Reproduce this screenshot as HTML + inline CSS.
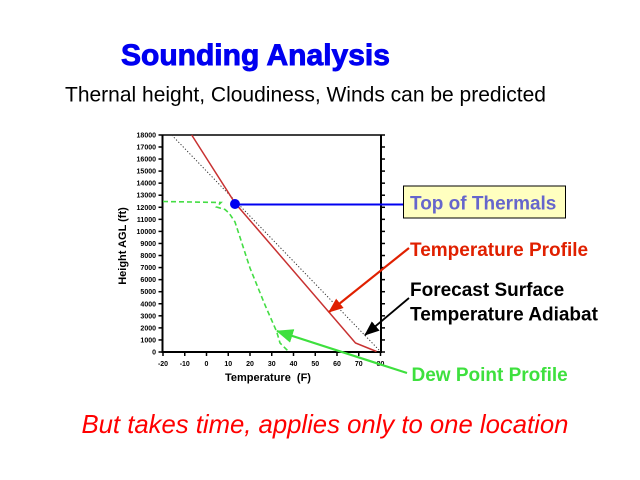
<!DOCTYPE html>
<html>
<head>
<meta charset="utf-8">
<style>
html,body{margin:0;padding:0;background:#fff;}
svg{display:block;}
text{font-family:"Liberation Sans",Arial,sans-serif;}
</style>
</head>
<body>
<svg width="640" height="480" viewBox="0 0 640 480" xmlns="http://www.w3.org/2000/svg">
<rect width="640" height="480" fill="#fff"/>
<defs>
<marker id="ar" markerUnits="userSpaceOnUse" markerWidth="16" markerHeight="12" refX="14" refY="6" orient="auto"><path d="M0,0 L15,6 L0,12 z" fill="#e02000"/></marker>
<marker id="ab" markerUnits="userSpaceOnUse" markerWidth="16" markerHeight="12" refX="14" refY="6" orient="auto"><path d="M0,0 L15,6 L0,12 z" fill="#000"/></marker>
<marker id="ag" markerUnits="userSpaceOnUse" markerWidth="18" markerHeight="14" refX="16" refY="7" orient="auto"><path d="M0,0 L17,7 L0,14 z" fill="#3ee03e"/></marker>
</defs>

<!-- titles -->
<text x="121" y="65" font-size="30" font-weight="bold" fill="#0000f0" stroke="#0000f0" stroke-width="0.9">Sounding Analysis</text>
<text x="65" y="101.5" font-size="21" fill="#000">Thernal height, Cloudiness, Winds can be predicted</text>
<text x="81.5" y="433" font-size="25.7" font-style="italic" fill="#ff0000">But takes time, applies only to one location</text>

<!-- plot frame -->
<g stroke="#000" fill="none">
<line x1="162.5" y1="135" x2="381" y2="135" stroke-width="1.5"/>
<line x1="162.5" y1="134.5" x2="162.5" y2="353" stroke-width="2"/>
<line x1="381" y1="134.5" x2="381" y2="353" stroke-width="2"/>
<line x1="161.5" y1="352" x2="382" y2="352" stroke-width="2"/>
</g>

<!-- y ticks -->
<g stroke="#000" stroke-width="1.5">
<line x1="158.5" y1="352" x2="162.5" y2="352"/><line x1="381" y1="352" x2="385" y2="352"/>
<line x1="158.5" y1="339.94" x2="162.5" y2="339.94"/><line x1="381" y1="339.94" x2="385" y2="339.94"/>
<line x1="158.5" y1="327.88" x2="162.5" y2="327.88"/><line x1="381" y1="327.88" x2="385" y2="327.88"/>
<line x1="158.5" y1="315.82" x2="162.5" y2="315.82"/><line x1="381" y1="315.82" x2="385" y2="315.82"/>
<line x1="158.5" y1="303.76" x2="162.5" y2="303.76"/><line x1="381" y1="303.76" x2="385" y2="303.76"/>
<line x1="158.5" y1="291.7" x2="162.5" y2="291.7"/><line x1="381" y1="291.7" x2="385" y2="291.7"/>
<line x1="158.5" y1="279.64" x2="162.5" y2="279.64"/><line x1="381" y1="279.64" x2="385" y2="279.64"/>
<line x1="158.5" y1="267.58" x2="162.5" y2="267.58"/><line x1="381" y1="267.58" x2="385" y2="267.58"/>
<line x1="158.5" y1="255.52" x2="162.5" y2="255.52"/><line x1="381" y1="255.52" x2="385" y2="255.52"/>
<line x1="158.5" y1="243.46" x2="162.5" y2="243.46"/><line x1="381" y1="243.46" x2="385" y2="243.46"/>
<line x1="158.5" y1="231.4" x2="162.5" y2="231.4"/><line x1="381" y1="231.4" x2="385" y2="231.4"/>
<line x1="158.5" y1="219.34" x2="162.5" y2="219.34"/><line x1="381" y1="219.34" x2="385" y2="219.34"/>
<line x1="158.5" y1="207.28" x2="162.5" y2="207.28"/><line x1="381" y1="207.28" x2="385" y2="207.28"/>
<line x1="158.5" y1="195.22" x2="162.5" y2="195.22"/><line x1="381" y1="195.22" x2="385" y2="195.22"/>
<line x1="158.5" y1="183.16" x2="162.5" y2="183.16"/><line x1="381" y1="183.16" x2="385" y2="183.16"/>
<line x1="158.5" y1="171.1" x2="162.5" y2="171.1"/><line x1="381" y1="171.1" x2="385" y2="171.1"/>
<line x1="158.5" y1="159.04" x2="162.5" y2="159.04"/><line x1="381" y1="159.04" x2="385" y2="159.04"/>
<line x1="158.5" y1="146.98" x2="162.5" y2="146.98"/><line x1="381" y1="146.98" x2="385" y2="146.98"/>
<line x1="158.5" y1="135" x2="162.5" y2="135"/><line x1="381" y1="135" x2="385" y2="135"/>
</g>
<!-- x ticks -->
<g stroke="#000" stroke-width="1.5">
<line x1="163" y1="352" x2="163" y2="356"/>
<line x1="184.75" y1="352" x2="184.75" y2="356"/>
<line x1="206.5" y1="352" x2="206.5" y2="356"/>
<line x1="228.25" y1="352" x2="228.25" y2="356"/>
<line x1="250" y1="352" x2="250" y2="356"/>
<line x1="271.75" y1="352" x2="271.75" y2="356"/>
<line x1="293.5" y1="352" x2="293.5" y2="356"/>
<line x1="315.25" y1="352" x2="315.25" y2="356"/>
<line x1="337" y1="352" x2="337" y2="356"/>
<line x1="358.75" y1="352" x2="358.75" y2="356"/>
<line x1="380.5" y1="352" x2="380.5" y2="356"/>
</g>

<!-- y labels -->
<g font-size="7" font-weight="bold" fill="#000" text-anchor="end">
<text x="156" y="354.5">0</text>
<text x="156" y="342.4">1000</text>
<text x="156" y="330.4">2000</text>
<text x="156" y="318.3">3000</text>
<text x="156" y="306.3">4000</text>
<text x="156" y="294.2">5000</text>
<text x="156" y="282.1">6000</text>
<text x="156" y="270.1">7000</text>
<text x="156" y="258">8000</text>
<text x="156" y="246">9000</text>
<text x="156" y="233.9">10000</text>
<text x="156" y="221.8">11000</text>
<text x="156" y="209.8">12000</text>
<text x="156" y="197.7">13000</text>
<text x="156" y="185.7">14000</text>
<text x="156" y="173.6">15000</text>
<text x="156" y="161.5">16000</text>
<text x="156" y="149.5">17000</text>
<text x="156" y="137.5">18000</text>
</g>
<!-- x labels -->
<g font-size="7" font-weight="bold" fill="#000" text-anchor="middle">
<text x="163" y="366">-20</text>
<text x="184.75" y="366">-10</text>
<text x="206.5" y="366">0</text>
<text x="228.25" y="366">10</text>
<text x="250" y="366">20</text>
<text x="271.75" y="366">30</text>
<text x="293.5" y="366">40</text>
<text x="315.25" y="366">50</text>
<text x="337" y="366">60</text>
<text x="358.75" y="366">70</text>
<text x="380.5" y="366">80</text>
</g>

<!-- axis titles -->
<text transform="translate(126,246) rotate(-90)" font-size="11" font-weight="bold" text-anchor="middle" fill="#000">Height AGL (ft)</text>
<text x="268" y="381" font-size="11" font-weight="bold" text-anchor="middle" fill="#000">Temperature&#160;&#160;(F)</text>

<!-- series -->
<line x1="171.7" y1="135" x2="379" y2="350" stroke="#333" stroke-width="1" stroke-dasharray="1.2,2"/>
<polyline points="191.7,135 235,203 355.5,343 376.5,351.5" fill="none" stroke="#c83232" stroke-width="1.5"/>
<polyline points="163,201.5 221,202.5 216.5,207 225,209.5 229,213 235,222 250,268 265,305 276.7,331.7 280,343 289,352" fill="none" stroke="#44dd44" stroke-width="1.6" stroke-dasharray="5,3"/>

<!-- blue thermal top -->
<line x1="235" y1="204.5" x2="403.5" y2="204.5" stroke="#0000f0" stroke-width="2"/>
<circle cx="235" cy="204" r="5" fill="#0000f0"/>

<!-- label box -->
<rect x="403.5" y="186" width="162" height="32" fill="#ffffc0" stroke="#000" stroke-width="1"/>
<text x="410" y="209.5" font-size="19" font-weight="bold" fill="#6666cc">Top of Thermals</text>

<!-- arrows -->
<line x1="409" y1="248" x2="329" y2="312" stroke="#e02000" stroke-width="2.2" marker-end="url(#ar)"/>
<line x1="409" y1="298" x2="365" y2="335" stroke="#000" stroke-width="1.8" marker-end="url(#ab)"/>
<line x1="407" y1="373" x2="277" y2="331" stroke="#3ee03e" stroke-width="2.2" marker-end="url(#ag)"/>

<!-- right labels -->
<text x="410" y="256" font-size="19" font-weight="bold" fill="#e02000">Temperature Profile</text>
<text x="410" y="296" font-size="19" font-weight="bold" fill="#000">Forecast Surface</text>
<text x="410" y="320.5" font-size="19" font-weight="bold" fill="#000">Temperature Adiabat</text>
<text x="411.5" y="381" font-size="19" font-weight="bold" fill="#3ee03e">Dew Point Profile</text>
</svg>
</body>
</html>
